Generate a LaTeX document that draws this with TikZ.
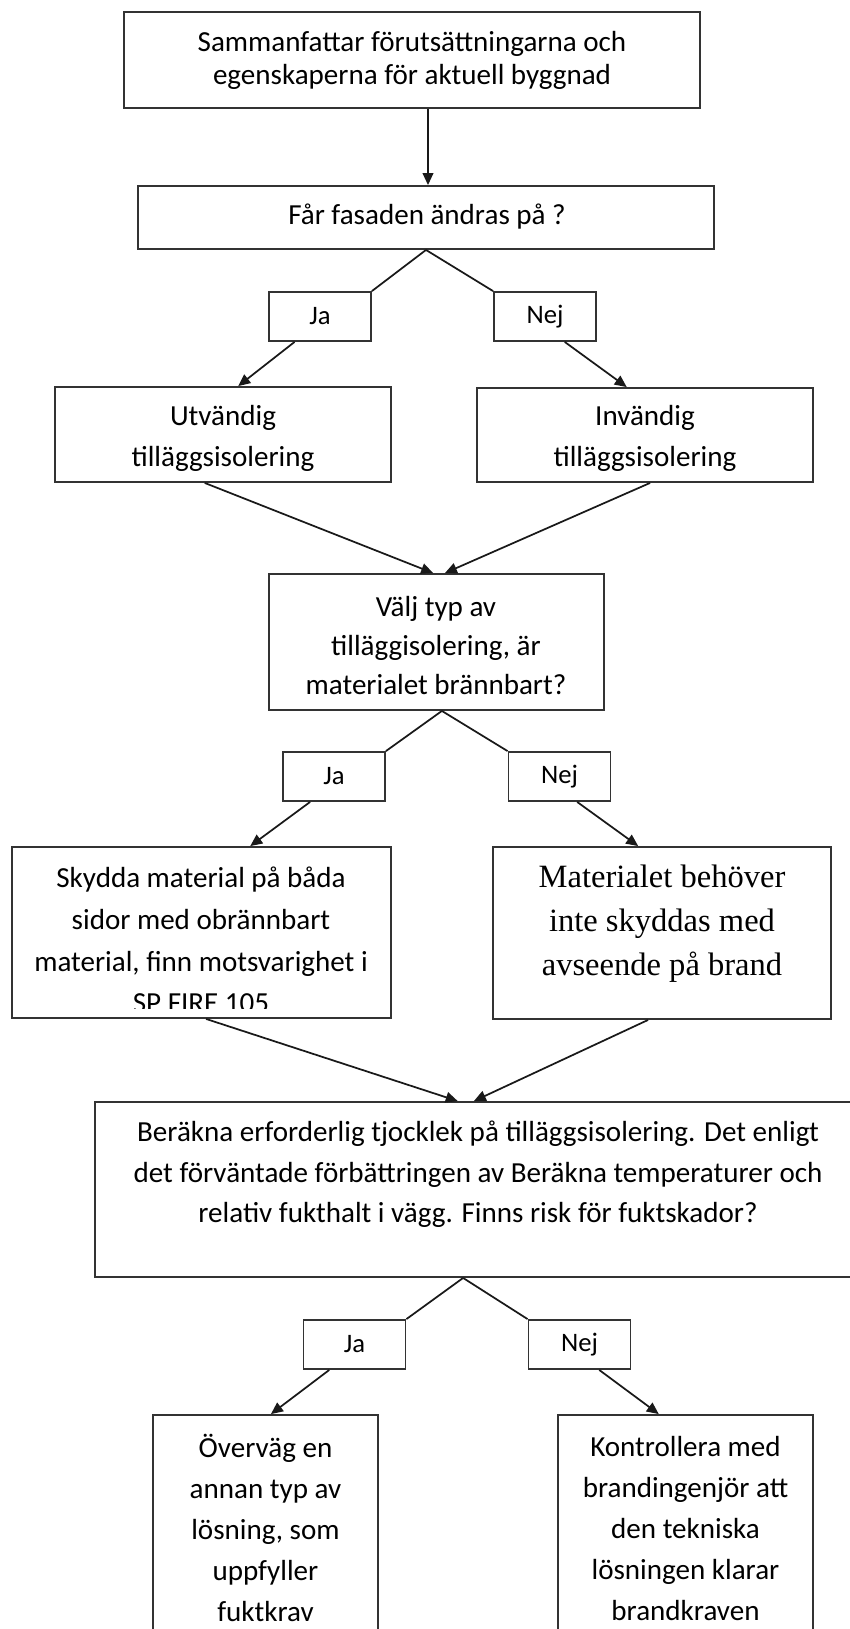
\documentclass[tikz,border=0pt]{standalone}
\usepackage{fontspec}
\setmainfont{Carlito}
\newfontfamily\serifx{Liberation Serif}
\usetikzlibrary{arrows.meta,calc,fit}
\begin{document}
\begin{tikzpicture}[x=0.75pt,y=-0.75pt,
  box/.style={draw=black!80, line width=1.4pt, inner sep=0pt, rectangle},
  txt/.style={align=center, inner sep=0pt, font=\fontsize{21.8}{30.75}\selectfont},
  lbl/.style={box, minimum width=76.5pt, minimum height=36.75pt, font=\fontsize{20}{24}\selectfont},
  con/.style={line width=1.3pt, black!90},
  arr/.style={con, -{Triangle[length=9pt,width=8pt]}}]
\useasboundingbox (0,0) rectangle (850,1629);
\clip (0,0) rectangle (850,1629);

% boxes
\node[box, fit={(124,12) (700,108)}] (b1) {};
\node[txt, font=\fontsize{21.8}{24.75}\selectfont] (t1) at (412,60) {Sammanfattar förutsättningarna och\\egenskaperna för aktuell byggnad};

\node[box, fit={(138,186) (714,249)}] (b2) {};
\node[txt] (t2) at (427,217) {Får fasaden ändras på ?};

\node[lbl] (ja1) at (320,316.5) {Ja};
\node[lbl] (nej1) at (545,316.5) {Nej};

\node[box, fit={(55,387) (391,482)}] (utv) {};
\node[txt] (tutv) at (223,438.5) {Utvändig\\tilläggsisolering};
\node[box, fit={(477,388) (813,482)}] (inv) {};
\node[txt] (tinv) at (645,438.5) {Invändig\\tilläggsisolering};

\node[box, fit={(269,574) (604,710)}] (valj) {};
\node[txt, font=\fontsize{21.8}{29.6}\selectfont] (tvalj) at (436,645.5) {Välj typ av\\tilläggisolering, är\\materialet brännbart?};

\node[lbl] (ja2) at (334,776.5) {Ja};
\node[lbl] (nej2) at (559.5,776.5) {Nej};

\node[box, fit={(12,847) (391,1018)}] (sky) {};
\begin{scope}
\clip (12,847) rectangle (391,1008);
\node[txt, font=\fontsize{21.8}{31.3}\selectfont] (tsky) at (201,940) {Skydda material på båda\\sidor med obrännbart\\material, finn motsvarighet i\\SP FIRE 105};
\end{scope}

\node[box, fit={(493,847) (831,1019)}] (mat) {};
\node[txt, font=\serifx\fontsize{24.4}{33}\selectfont] (tmat) at (662,924) {Materialet behöver\\inte skyddas med\\avseende på brand};

\node[box, fit={(95,1102) (862,1277)}] (ber) {};
\node[txt, font=\fontsize{21.8}{30.4}\selectfont] (tber) at (478,1174.5) {Beräkna erforderlig tjocklek på tilläggsisolering. Det enligt\\det förväntade förbättringen av Beräkna temperaturer och\\relativ fukthalt i vägg. Finns risk för fuktskador?};

\node[lbl] (ja3) at (354.5,1344.5) {Ja};
\node[lbl] (nej3) at (579.5,1344.5) {Nej};

\node[box, fit={(153,1415) (378,1680)}] (ov) {};
\node[txt] (tov) at (265.5,1528) {Överväg en\\annan typ av\\lösning, som\\uppfyller\\fuktkrav};
\node[box, fit={(558,1415) (813,1680)}] (kon) {};
\node[txt] (tkon) at (685.5,1528) {Kontrollera med\\brandingenjör att\\den tekniska\\lösningen klarar\\brandkraven};

% connectors
\draw[arr] (b1.south -| 428,0) -- (b2.north -| 428,0);
\draw[con] (b2.south) -- (ja1.north east);
\draw[con] (b2.south) -- (nej1.north west);
\draw[arr] ($(ja1.south west)!0.255!(ja1.south east)$) -- ($(utv.north west)!0.545!(utv.north east)$);
\draw[arr] ($(nej1.south west)!0.69!(nej1.south east)$) -- ($(inv.north west)!0.446!(inv.north east)$);
\draw[arr] ($(utv.south west)!0.446!(utv.south east)$) -- ($(valj.north west)!0.49!(valj.north east)$);
\draw[arr] ($(inv.south west)!0.515!(inv.south east)$) -- ($(valj.north west)!0.525!(valj.north east)$);

\draw[con] ($(valj.south west)!0.516!(valj.south east)$) -- (ja2.north east);
\draw[con] ($(valj.south west)!0.516!(valj.south east)$) -- (nej2.north west);
\draw[arr] ($(ja2.south west)!0.27!(ja2.south east)$) -- ($(sky.north west)!0.628!(sky.north east)$);
\draw[arr] ($(nej2.south west)!0.67!(nej2.south east)$) -- ($(mat.north west)!0.43!(mat.north east)$);
\draw[arr] ($(sky.south west)!0.512!(sky.south east)$) -- ($(ber.north west)!0.473!(ber.north east)$);
\draw[arr] ($(mat.south west)!0.459!(mat.south east)$) -- ($(ber.north west)!0.494!(ber.north east)$);

\draw[con] ($(ber.south west)!0.48!(ber.south east)$) -- (ja3.north east);
\draw[con] ($(ber.south west)!0.48!(ber.south east)$) -- (nej3.north west);
\draw[arr] ($(ja3.south west)!0.257!(ja3.south east)$) -- ($(ov.north west)!0.524!(ov.north east)$);
\draw[arr] ($(nej3.south west)!0.69!(nej3.south east)$) -- ($(kon.north west)!0.396!(kon.north east)$);
\end{tikzpicture}
\end{document}
